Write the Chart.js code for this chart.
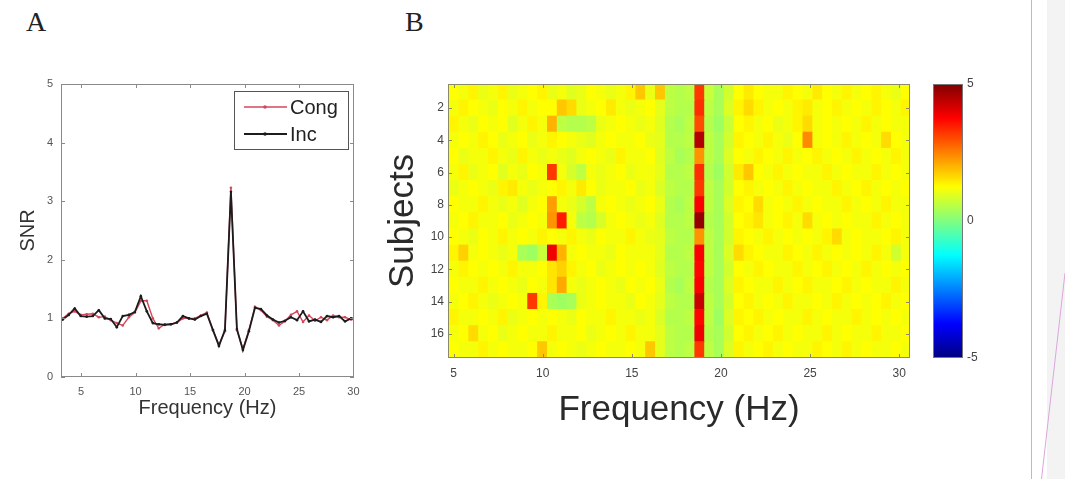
<!DOCTYPE html>
<html>
<head>
<meta charset="utf-8">
<script src="https://cdn.jsdelivr.net/npm/chart.js@4.4.1/dist/chart.umd.min.js"></script>
<style>
  html, body { margin: 0; padding: 0; background: #fff; }
  body { width: 1065px; height: 479px; position: relative; overflow: hidden; }
  canvas { position: absolute; }
  .letter { position: absolute; font-family: "Liberation Serif", "DejaVu Serif", serif; font-size: 28px; line-height: 28px; color: #222; }
</style>
</head>
<body>
<div class="letter" style="left:26px; top:8px;">A</div>
<div class="letter" style="left:405px; top:8px;">B</div>
<canvas id="snrChart" width="370" height="390" style="left:0; top:60px;"></canvas>
<canvas id="heatChart" width="555" height="390" style="left:370px; top:60px;"></canvas>
<canvas id="barChart" width="90" height="330" style="left:915px; top:60px;"></canvas>
<div style="position:absolute; left:1047px; top:0; width:18px; height:479px; background:#f3f3f3;"></div>
<svg style="position:absolute; left:0; top:0; pointer-events:none;" width="1065" height="479">
  <line x1="1031.5" y1="0" x2="1031.5" y2="479" stroke="#dca6dc" stroke-width="1"/>
  <line x1="1065" y1="273" x2="1041.5" y2="479" stroke="#dca6dc" stroke-width="1"/>
</svg>
<script>
Chart.defaults.font.family = '"Liberation Sans", Arial, Helvetica, sans-serif';

// panel A: SNR per frequency bin
var lineFreqs = [2.76, 3.31, 3.86, 4.41, 4.96, 5.51, 6.07, 6.62, 7.17, 7.72,
  8.27, 8.82, 9.38, 9.93, 10.48, 11.03, 11.58, 12.13, 12.68, 13.24,
  13.79, 14.34, 14.89, 15.44, 15.99, 16.54, 17.10, 17.65, 18.20, 18.75,
  19.30, 19.85, 20.40, 20.96, 21.51, 22.06, 22.61, 23.16, 23.71, 24.26,
  24.82, 25.37, 25.92, 26.47, 27.02, 27.57, 28.13, 28.68, 29.23, 29.78, 30.33];
var snrCong = [0.95, 1.00, 1.08, 1.12, 1.06, 1.07, 1.08, 1.02, 1.03, 0.97,
  0.92, 0.88, 1.02, 1.10, 1.30, 1.30, 1.00, 0.83, 0.90, 0.90,
  0.93, 1.00, 1.00, 1.00, 1.05, 1.10, 0.80, 0.55, 0.78, 3.23,
  0.80, 0.48, 0.80, 1.20, 1.14, 1.03, 0.97, 0.88, 0.95, 1.06,
  1.12, 0.94, 1.05, 0.96, 1.02, 0.97, 1.05, 1.02, 1.02, 0.98, 0.98];
var snrInc = [0.92, 0.98, 1.06, 1.17, 1.04, 1.03, 1.04, 1.14, 1.00, 0.99,
  0.85, 1.04, 1.06, 1.11, 1.38, 1.12, 0.92, 0.90, 0.89, 0.90,
  0.93, 1.04, 1.00, 0.98, 1.04, 1.08, 0.80, 0.53, 0.80, 3.16,
  0.82, 0.46, 0.78, 1.18, 1.16, 1.05, 0.98, 0.93, 0.96, 1.02,
  0.97, 1.12, 0.95, 0.98, 0.94, 1.04, 1.02, 1.04, 0.95, 1.00, 1.00];
var snrXTicks = [5, 10, 15, 20, 25, 30];
var snrYTicks = [0, 1, 2, 3, 4, 5];

// panel B: SNR per subject (rows) and frequency bin (columns)
var heatFreqs = lineFreqs.slice(4);
var subjects = ['1', '2', '3', '4', '5', '6', '7', '8', '9', '10', '11', '12', '13', '14', '15', '16', '17'];
var heatXTicks = [5, 10, 15, 20, 25, 30];
var snrMap = [
  [1.25,1.15,1.35,1.05,1.15,1.35,1.05,1.15,1.25,1.35, 1.05,1.15,0.95,1.05,1.25,1.15,1.05,1.15,1.35,1.8, 1.05,1.8,0.6,0.5,0.6,3.2,0.7,0.4,0.8,1.25, 1.45,1.25,1.15,1.15,1.35,1.25,1.15,1.45,1.25,1.15, 1.35,1.15,1.25,1.35,1.15,1.05,1.25],
  [1.15,1.35,1.25,1.15,1.05,1.25,1.15,1.35,1.15,1.25, 1.25,1.8,1.6,1.05,1.15,1.25,1.45,1.15,1.05,1.15, 1.25,1.0,0.6,0.5,0.5,3.3,0.6,0.4,0.9,1.35, 1.6,1.35,1.15,1.25,1.15,1.35,1.45,1.15,1.25,1.35, 1.15,1.25,1.15,1.35,1.25,1.15,1.35],
  [1.35,1.15,1.05,1.25,1.15,1.25,0.95,1.15,1.35,1.15, 2.0,0.6,0.5,0.5,0.6,1.05,1.15,1.25,1.15,1.05, 1.15,0.95,0.5,0.4,0.6,3.0,0.5,0.3,0.7,1.25, 1.35,1.15,1.25,1.05,1.15,1.35,1.6,1.15,1.25,1.15, 1.25,1.15,1.35,1.15,1.25,1.15,1.15],
  [1.15,1.25,1.15,1.35,1.25,1.05,1.15,1.25,1.05,1.15, 1.35,1.25,1.15,1.05,0.95,1.15,1.25,1.15,1.15,1.25, 1.05,1.0,0.5,0.5,0.6,4.5,0.6,0.4,0.8,1.35, 1.25,1.15,1.35,1.15,1.05,1.25,2.4,1.15,1.25,1.15, 1.35,1.15,1.25,1.15,1.6,1.25,1.15],
  [1.25,1.05,1.15,1.15,1.35,1.15,1.05,1.35,1.15,1.05, 1.15,1.05,0.95,1.15,1.25,1.15,1.05,1.35,1.15,1.15, 1.25,0.95,0.6,0.4,0.5,2.3,0.6,0.4,0.9,1.25, 1.15,1.35,1.25,1.15,1.35,1.15,1.25,1.35,1.15,1.25, 1.15,1.35,1.15,1.25,1.15,1.35,1.15],
  [1.15,1.35,1.05,1.15,1.25,0.95,1.15,1.05,1.25,1.15, 3.2,1.15,0.85,0.6,1.15,1.05,1.15,1.25,1.05,1.15, 1.15,1.0,0.5,0.5,0.6,3.3,0.5,0.3,0.8,1.45, 1.8,1.25,1.15,1.35,1.15,1.25,1.15,1.15,1.35,1.15, 1.25,1.15,1.15,1.35,1.15,1.25,1.15],
  [1.05,1.15,1.25,1.15,1.05,1.35,1.45,1.15,1.05,1.15, 1.25,1.35,1.15,1.45,1.25,1.05,1.15,1.15,1.25,1.05, 1.15,0.9,0.6,0.5,0.5,3.2,0.6,0.4,0.8,1.25, 1.35,1.15,1.25,1.15,1.35,1.15,1.25,1.15,1.15,1.35, 1.15,1.25,1.35,1.15,1.25,1.15,1.25],
  [1.25,1.15,1.15,1.35,1.15,1.05,1.15,0.95,1.15,1.25, 2.2,1.15,1.05,0.85,0.6,1.15,1.25,1.15,1.05,1.15, 1.25,1.05,0.5,0.4,0.6,3.8,0.6,0.4,0.9,1.35, 1.25,1.6,1.15,1.25,1.15,1.35,1.15,1.25,1.15,1.15, 1.35,1.15,1.25,1.15,1.35,1.15,1.15],
  [1.15,1.25,1.35,1.15,1.15,1.25,1.05,1.15,1.25,1.15, 2.3,3.5,1.15,0.6,0.5,0.85,1.15,1.25,1.15,1.05, 1.15,0.95,0.5,0.5,0.6,4.8,0.5,0.4,0.8,1.25, 1.35,1.5,1.15,1.25,1.35,1.15,1.6,1.15,1.25,1.15, 1.25,1.15,1.15,1.35,1.15,1.25,1.15],
  [1.25,1.15,1.05,1.25,1.15,1.35,1.15,1.25,1.15,1.35, 1.25,1.15,1.35,1.15,1.05,1.25,1.15,1.15,1.35,1.15, 1.05,1.0,0.6,0.5,0.5,2.3,0.6,0.4,0.8,1.35, 1.25,1.15,1.35,1.15,1.25,1.15,1.25,1.15,1.35,1.6, 1.15,1.25,1.15,1.15,1.25,1.35,1.15],
  [1.35,1.7,1.15,1.25,1.15,1.05,1.15,0.4,0.3,0.7, 3.9,2.0,1.15,1.25,1.15,1.15,1.05,1.25,1.15,1.15, 1.15,1.0,0.5,0.5,0.6,3.8,0.6,0.4,0.9,1.6, 1.35,1.25,1.15,1.15,1.35,1.25,1.15,1.35,1.15,1.25, 1.15,1.25,1.15,1.35,1.15,0.8,1.15],
  [1.15,1.35,1.25,1.15,1.25,1.15,1.35,1.15,1.15,1.25, 1.5,1.7,1.35,1.15,1.25,1.05,1.15,1.25,1.15,1.25, 1.15,0.95,0.6,0.5,0.5,3.7,0.6,0.4,0.8,1.25, 1.15,1.35,1.25,1.15,1.15,1.35,1.15,1.25,1.35,1.15, 1.25,1.15,1.35,1.15,1.25,1.15,1.25],
  [1.25,1.15,1.15,1.35,1.15,1.25,1.15,1.05,1.25,1.15, 1.5,2.1,1.15,1.05,1.15,1.25,1.15,1.05,1.25,1.15, 1.25,1.05,0.5,0.4,0.6,3.8,0.5,0.4,0.9,1.35, 1.25,1.15,1.15,1.35,1.15,1.25,1.35,1.15,1.15,1.25, 1.35,1.15,1.25,1.15,1.15,1.35,1.15],
  [1.15,1.25,1.35,1.15,1.05,1.15,1.25,1.15,3.2,1.35, 0.4,0.3,0.4,1.05,1.15,1.25,1.15,1.15,1.05,1.25, 1.15,1.0,0.6,0.5,0.5,4.3,0.6,0.4,0.8,1.25, 1.35,1.15,1.25,1.15,1.35,1.15,1.15,1.25,1.15,1.35, 1.15,1.25,1.15,1.25,1.35,1.15,1.25],
  [1.35,1.15,1.15,1.25,1.15,1.35,1.05,1.15,1.25,1.15, 1.25,1.15,1.05,1.25,1.15,1.15,1.35,1.15,1.15,1.05, 1.15,0.9,0.5,0.5,0.6,3.7,0.6,0.3,0.9,1.35, 1.25,1.35,1.15,1.25,1.15,1.15,1.35,1.15,1.25,1.15, 1.15,1.35,1.15,1.25,1.15,1.25,1.15],
  [1.15,1.25,1.6,1.15,1.25,1.05,1.15,1.25,1.15,1.15, 1.35,1.15,1.15,1.25,1.05,1.15,1.25,1.15,1.35,1.15, 1.15,1.0,0.6,0.5,0.5,3.9,0.5,0.4,0.8,1.25, 1.35,1.15,1.25,1.35,1.15,1.25,1.15,1.15,1.35,1.15, 1.25,1.15,1.15,1.35,1.15,1.15,1.25],
  [1.25,1.15,1.15,1.35,1.15,1.25,1.15,1.15,1.25,1.8, 1.15,1.25,1.15,1.05,1.15,1.25,1.15,1.15,1.25,1.15, 1.8,1.0,0.6,0.5,0.6,3.2,0.6,0.4,0.9,1.35, 1.15,1.25,1.35,1.15,1.25,1.15,1.15,1.35,1.25,1.15, 1.35,1.15,1.25,1.15,1.15,1.25,1.15]
];

// colour bar
var cMin = -5, cMax = 5;
var cbTicks = [-5, 0, 5];

function jet(v) {
  var t = Math.max(0, Math.min(1, (v - cMin) / (cMax - cMin)));
  var f = function (x) { return Math.round(255 * Math.max(0, Math.min(1, x))); };
  return 'rgb(' + f(1.5 - Math.abs(4 * t - 3)) + ',' + f(1.5 - Math.abs(4 * t - 2)) + ',' + f(1.5 - Math.abs(4 * t - 1)) + ')';
}

function fixedTicks(vals) {
  return function (s) { s.ticks = vals.map(function (v) { return {value: v}; }); };
}

// box round the plot + small inward ticks, like matlab
var framePlugin = {
  id: 'frame',
  afterDraw: function (chart, args, opts) {
    var ctx = chart.ctx, a = chart.chartArea;
    ctx.save();
    ctx.strokeStyle = opts.color || '#808080';
    ctx.lineWidth = 1;
    ctx.strokeRect(Math.round(a.left) + 0.5, Math.round(a.top) + 0.5, Math.round(a.width) - 1, Math.round(a.height) - 1);
    var len = opts.tick || 0;
    if (len) {
      ['x', 'y'].forEach(function (id) {
        var s = chart.scales[id];
        if (!s || !s.options.display) return;
        s.ticks.forEach(function (t, i) {
          if (t.label === '' || t.label == null) return;
          var p = Math.round(s.getPixelForTick(i)) + 0.5;
          ctx.beginPath();
          if (id === 'x') {
            ctx.moveTo(p, a.bottom); ctx.lineTo(p, a.bottom - len);
            ctx.moveTo(p, a.top); ctx.lineTo(p, a.top + len);
          } else {
            ctx.moveTo(a.left, p); ctx.lineTo(a.left + len, p);
            ctx.moveTo(a.right, p); ctx.lineTo(a.right - len, p);
          }
          ctx.stroke();
        });
      });
    }
    ctx.restore();
  }
};

// legend box inside the plot, top right
var boxLegend = {
  id: 'boxLegend',
  afterDraw: function (chart) {
    var ctx = chart.ctx, a = chart.chartArea;
    var w = 114, h = 58;
    var x0 = Math.round(a.right - 6 - w), y0 = Math.round(a.top + 7);
    ctx.save();
    ctx.fillStyle = '#fff';
    ctx.fillRect(x0, y0, w, h);
    ctx.strokeStyle = '#555';
    ctx.lineWidth = 1;
    ctx.strokeRect(x0 + 0.5, y0 + 0.5, w, h);
    ctx.font = '20px "Liberation Sans", Arial, sans-serif';
    ctx.textBaseline = 'middle';
    chart.data.datasets.forEach(function (ds, i) {
      var y = y0 + 16 + i * 27;
      ctx.strokeStyle = ds.borderColor;
      ctx.lineWidth = ds.borderWidth;
      ctx.beginPath(); ctx.moveTo(x0 + 10, y); ctx.lineTo(x0 + 53, y); ctx.stroke();
      ctx.fillStyle = ds.borderColor;
      ctx.beginPath(); ctx.arc(x0 + 31, y, 1.8, 0, Math.PI * 2); ctx.fill();
      ctx.fillStyle = '#222';
      ctx.fillText(ds.label, x0 + 56, y + 1.5);
    });
    ctx.restore();
  }
};

new Chart(document.getElementById('snrChart'), {
  type: 'line',
  data: {
    datasets: [
      {
        label: 'Cong',
        data: lineFreqs.map(function (f, i) { return {x: f, y: snrCong[i]}; }),
        borderColor: '#d2475c',
        backgroundColor: '#d2475c',
        borderWidth: 1.4,
        pointRadius: 1.3,
        pointBorderWidth: 0,
        tension: 0,
        clip: 0,
        order: 1
      },
      {
        label: 'Inc',
        data: lineFreqs.map(function (f, i) { return {x: f, y: snrInc[i]}; }),
        borderColor: '#1c1c1c',
        backgroundColor: '#1c1c1c',
        borderWidth: 1.8,
        pointRadius: 1.3,
        pointBorderWidth: 0,
        tension: 0,
        clip: 0,
        order: 0
      }
    ]
  },
  options: {
    responsive: false,
    animation: false,
    layout: {padding: {left: 14, right: 16, top: 24, bottom: 30}},
    plugins: {
      legend: {display: false},
      tooltip: {enabled: false},
      frame: {color: '#8a8a8a', tick: 4}
    },
    scales: {
      x: {
        type: 'linear', min: 3.15, max: 30.05,
        afterBuildTicks: fixedTicks(snrXTicks),
        afterFit: function (s) { s.height = 43; },
        grid: {display: false, drawTicks: false}, border: {display: false},
        ticks: {padding: 8, color: '#555', font: {size: 11}},
        title: {display: true, text: 'Frequency (Hz)', color: '#333', font: {size: 20}, padding: {top: 0, bottom: 0}}
      },
      y: {
        type: 'linear', min: 0, max: 5,
        afterBuildTicks: fixedTicks(snrYTicks),
        afterFit: function (s) { s.width = 47; },
        grid: {display: false, drawTicks: false}, border: {display: false},
        ticks: {padding: 8, color: '#555', font: {size: 11}},
        title: {display: true, text: 'SNR', color: '#333', font: {size: 20}, padding: {top: 2, bottom: 0}}
      }
    }
  },
  plugins: [framePlugin, boxLegend]
});

var binW = heatFreqs[1] - heatFreqs[0];
var heatDatasets = heatFreqs.map(function (f, c) {
  var lo = c === 0 ? f - binW / 2 : (heatFreqs[c - 1] + f) / 2;
  var hi = c === heatFreqs.length - 1 ? f + binW / 2 : (heatFreqs[c + 1] + f) / 2;
  return {
    label: f.toFixed(2) + ' Hz',
    data: snrMap.map(function () { return [lo, hi]; }),
    backgroundColor: snrMap.map(function (row) { return jet(row[c]); }),
    borderWidth: 0,
    inflateAmount: 0.6,
    grouped: false,
    barPercentage: 1,
    categoryPercentage: 1
  };
});

new Chart(document.getElementById('heatChart'), {
  type: 'bar',
  data: {labels: subjects, datasets: heatDatasets},
  options: {
    indexAxis: 'y',
    responsive: false,
    animation: false,
    layout: {padding: {left: 12, right: 15, top: 24, bottom: 19}},
    plugins: {
      legend: {display: false},
      tooltip: {enabled: false},
      frame: {color: '#8a8a6a', tick: 4}
    },
    scales: {
      x: {
        type: 'linear',
        min: heatFreqs[0] - binW / 2,
        max: heatFreqs[heatFreqs.length - 1] + binW / 2,
        afterBuildTicks: fixedTicks(heatXTicks),
        afterFit: function (s) { s.height = 73; },
        grid: {display: false, drawTicks: false}, border: {display: false},
        ticks: {padding: 8, color: '#444', font: {size: 12}},
        title: {display: true, text: 'Frequency (Hz)', color: '#2a2a2a', font: {size: 35}, padding: {top: 0, bottom: 0}}
      },
      y: {
        type: 'category',
        afterFit: function (s) { s.width = 66; },
        grid: {display: false, drawTicks: false}, border: {display: false},
        ticks: {
          autoSkip: false, padding: 4, color: '#444', font: {size: 12},
          callback: function (v, i) { return i % 2 === 1 ? subjects[i] : ''; }
        },
        title: {display: true, text: 'Subjects', color: '#2a2a2a', font: {size: 35}, padding: {top: 0, bottom: 0}}
      }
    }
  },
  plugins: [framePlugin]
});

new Chart(document.getElementById('barChart'), {
  type: 'bar',
  data: {
    labels: ['SNR'],
    datasets: [{
      data: [[cMin, cMax]],
      backgroundColor: function (c) {
        var a = c.chart.chartArea;
        if (!a) return '#888';
        var g = c.chart.ctx.createLinearGradient(0, a.bottom, 0, a.top);
        for (var i = 0; i <= 40; i++) g.addColorStop(i / 40, jet(cMin + (cMax - cMin) * i / 40));
        return g;
      },
      borderWidth: 0,
      barPercentage: 1,
      categoryPercentage: 1
    }]
  },
  options: {
    responsive: false,
    animation: false,
    layout: {padding: {left: 18, right: 0, top: 24, bottom: 32}},
    plugins: {
      legend: {display: false},
      tooltip: {enabled: false},
      frame: {color: '#777', tick: 0}
    },
    scales: {
      x: {display: false},
      y: {
        position: 'right', min: cMin, max: cMax, z: 1,
        afterBuildTicks: fixedTicks(cbTicks),
        afterFit: function (s) { s.width = 42; },
        grid: {
          drawTicks: false, lineWidth: 1.5,
          color: function (c) { return c.tick && c.tick.value === 0 ? 'rgba(255,255,255,0.85)' : 'rgba(0,0,0,0)'; }
        },
        border: {display: false},
        ticks: {padding: 4, color: '#444', font: {size: 12}}
      }
    }
  },
  plugins: [framePlugin]
});
</script>
</body>
</html>
